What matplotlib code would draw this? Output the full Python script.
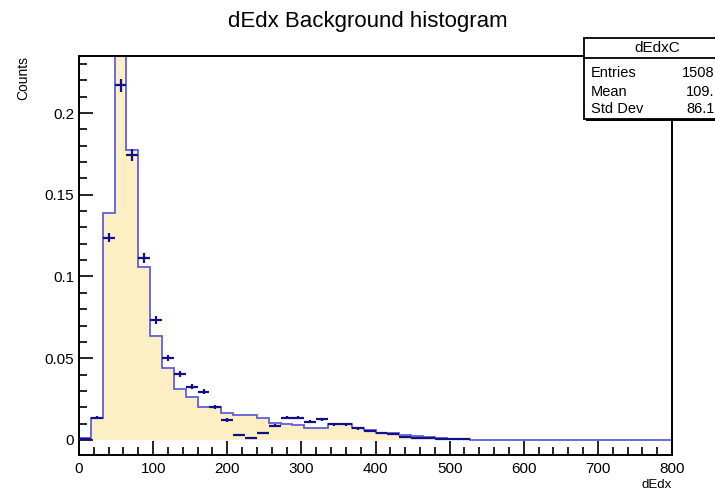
import numpy as np
import matplotlib
matplotlib.use("Agg")
import matplotlib.pyplot as plt
from matplotlib.patches import Rectangle
from matplotlib.ticker import MultipleLocator

plt.rcParams['font.family'] = ['Liberation Sans', 'DejaVu Sans']

# 50 bins of dEdx from 0 to 800
bin_edges = np.linspace(0, 800, 51)

# background histogram (filled)
bkg_counts = [0.001, 0.0137, 0.1387, 0.27, 0.1774, 0.1057, 0.0637, 0.0439, 0.031, 0.0261,
              0.0204, 0.0204, 0.0163, 0.0153, 0.0153, 0.0137, 0.0106, 0.0096, 0.0090, 0.0072,
              0.0072, 0.0100, 0.0100, 0.0072, 0.0060, 0.0045, 0.0040, 0.0030, 0.0022, 0.0018,
              0.0012, 0.0008, 0.0004] + [0.0] * 17

# data points with errors (only non-empty bins)
data_counts = [0.0005, 0.0137, 0.1238, 0.2171, 0.1744, 0.1112, 0.0735, 0.0500, 0.0404, 0.0327,
               0.0296, 0.0204, 0.0122, 0.0033, 0.0014, 0.0040, 0.0088, 0.0137, 0.0137, 0.0112,
               0.0126, 0.0096, 0.0096, 0.0071, 0.0055, 0.0040, 0.0037, 0.0020, 0.0014, 0.0012,
               0.0008, 0.0005, 0.0003]
data_errors = [0.0002, 0.0010, 0.0030, 0.0040, 0.0036, 0.0029, 0.0023, 0.0019, 0.0017, 0.0016,
               0.0015, 0.0012, 0.00095, 0.0005, 0.0003, 0.00054, 0.0008, 0.0010, 0.0010, 0.0009,
               0.00097, 0.00084, 0.00084, 0.00073, 0.00064, 0.00054, 0.00052, 0.00038, 0.00032, 0.0003,
               0.00024, 0.00019, 0.00015]

stats_names = ["Entries", "Mean", "Std Dev"]
stats_values = ["1508", "109.", "86.1"]

fig = plt.figure(figsize=(7.15, 4.95), dpi=100)
ax = fig.add_axes([0.1105, 0.0808, 0.8294, 0.8061])

ax.stairs(bkg_counts, bin_edges, fill=True, color='#fcefc4', zorder=1)
ax.stairs(bkg_counts, bin_edges, color='#5f5fdc', linewidth=1.3, zorder=2)

centers = 0.5 * (bin_edges[:-1] + bin_edges[1:])
n = len(data_counts)
ax.errorbar(centers[:n], data_counts, xerr=8, yerr=data_errors, fmt='none',
            ecolor='#10108a', elinewidth=1.6, capsize=0, zorder=3)

ax.set_xlim(0, 800)
ax.set_ylim(-0.0092, 0.2349)

ax.xaxis.set_major_locator(MultipleLocator(100))
ax.xaxis.set_minor_locator(MultipleLocator(20))
ax.yaxis.set_major_locator(MultipleLocator(0.05))
ax.yaxis.set_minor_locator(MultipleLocator(0.01))
ax.yaxis.set_major_formatter(plt.FuncFormatter(lambda v, p: "0" if abs(v) < 1e-9 else f"{v:g}"))

ax.tick_params(which='both', direction='in', top=False, right=False, labelsize=11, width=1.2, color='black')
ax.tick_params(which='major', length=10)
ax.tick_params(which='minor', length=6)
ax.tick_params(axis='x', pad=5)
for s in ax.spines.values():
    s.set_linewidth(1.4)

ax.set_xlabel("dEdx", fontsize=9.5, loc='right', labelpad=2)
ax.set_ylabel("Counts", fontsize=10, loc='top', labelpad=10)
fig.text(0.515, 0.957, "dEdx Background histogram", ha='center', va='center', fontsize=16)

# stats box in the top right corner
bx0, by0, by1 = 0.8168, 0.7606, 0.9232
fig.patches.append(Rectangle((bx0 + 0.003, by0 - 0.005), 0.3, by1 - by0, transform=fig.transFigure,
                             facecolor='black', edgecolor='none', zorder=9))
fig.patches.append(Rectangle((bx0, by0), 0.3, by1 - by0, transform=fig.transFigure,
                             facecolor='white', edgecolor='black', linewidth=1.3, zorder=10))
fig.lines.append(plt.Line2D([bx0, 1.0], [0.8822, 0.8822], transform=fig.transFigure,
                            color='black', linewidth=1.3, zorder=11))
fig.text(0.919, 0.903, "dEdxC", ha='center', va='center', fontsize=11, zorder=12)
rows_y = [0.8525, 0.8141, 0.7798]
for name, val, y in zip(stats_names, stats_values, rows_y):
    fig.text(bx0 + 0.010, y, name, ha='left', va='center', fontsize=10.5, zorder=12)
    fig.text(0.9995, y, val, ha='right', va='center', fontsize=10.5, zorder=12)

fig.savefig("out.png", dpi=100)
